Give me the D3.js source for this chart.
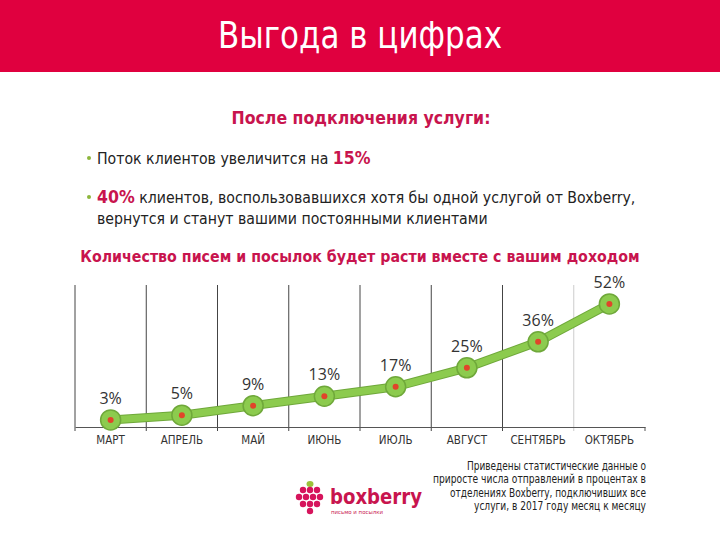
<!DOCTYPE html>
<html><head><meta charset="utf-8">
<script src="https://cdn.jsdelivr.net/npm/d3@7"></script>
<style>html,body{margin:0;padding:0;background:#fff;}svg{display:block;}</style>
</head><body>
<svg id="c" width="720" height="540"></svg>
<script>
const months = ["МАРТ","АПРЕЛЬ","МАЙ","ИЮНЬ","ИЮЛЬ","АВГУСТ","СЕНТЯБРЬ","ОКТЯБРЬ"];
const values = [3,5,9,13,17,25,36,52];
const valueLabels = ["3%","5%","9%","13%","17%","25%","36%","52%"];
const footnote = ["Приведены статистические данные о","приросте числа отправлений в процентах в","отделениях Boxberry, подключивших все","услуги, в 2017 году месяц к месяцу"];
const footWidths = [179,213,196,172];

const svg = d3.select("#c");
const crimson = "#C8144E";
const sans = "'DejaVu Sans Condensed','DejaVu Sans',sans-serif";
const body = "'Liberation Sans Narrow','DejaVu Sans Condensed',sans-serif";

// header
svg.append("rect").attr("x",0).attr("y",0).attr("width",720).attr("height",72).attr("fill","#E0003F");
svg.append("text").attr("x",218).attr("y",48)
  .attr("fill","#fff").attr("font-family",body).attr("font-size",37)
  .attr("textLength",284).attr("lengthAdjust","spacingAndGlyphs").text("Выгода в цифрах");

svg.append("text").attr("x",361).attr("y",124).attr("text-anchor","middle")
  .attr("fill",crimson).attr("font-family",sans).attr("font-weight","bold").attr("font-size",17.5)
  .text("После подключения услуги:");

// bullets
svg.append("circle").attr("cx",89).attr("cy",158).attr("r",2).attr("fill","#8DB63C");
const t1 = svg.append("text").attr("x",97).attr("y",164).attr("font-family",sans).attr("font-size",15.7).attr("fill","#222");
t1.append("tspan").text("Поток клиентов увеличится на ");
t1.append("tspan").attr("fill",crimson).attr("font-weight","bold").attr("font-size",17.5).text("15%");

svg.append("circle").attr("cx",89).attr("cy",197).attr("r",2).attr("fill","#8DB63C");
const t2 = svg.append("text").attr("x",97).attr("y",203).attr("font-family",sans).attr("font-size",15.7).attr("fill","#222");
t2.append("tspan").attr("fill",crimson).attr("font-weight","bold").attr("font-size",17.5).text("40%");
t2.append("tspan").text(" клиентов, воспользовавшихся хотя бы одной услугой от Boxberry,");
svg.append("text").attr("x",97).attr("y",224).attr("font-family",sans).attr("font-size",15.7).attr("fill","#222")
  .text("вернутся и станут вашими постоянными клиентами");

svg.append("text").attr("x",360).attr("y",262).attr("text-anchor","middle")
  .attr("fill",crimson).attr("font-family",sans).attr("font-weight","bold").attr("font-size",15.8)
  .text("Количество писем и посылок будет расти вместе с вашим доходом");

// chart
const x = d3.scaleBand().domain(months).range([75,645]);
const y = d3.scaleLinear().domain([0,60]).range([427,285]);
const g = svg.append("g");

const bounds = months.map(m=>x(m));
g.selectAll("line.v").data(bounds).join("line")
  .attr("x1",d=>d).attr("x2",d=>d).attr("y1",285).attr("y2",431)
  .attr("stroke",(d,i)=> i===7 ? "#ccc" : "#444").attr("stroke-width",1);
const ax = g.append("g").attr("transform","translate(0,427)")
  .call(d3.axisBottom(x).tickSize(0).tickPadding(9));
ax.select(".domain").attr("stroke","#555");
ax.selectAll("text").attr("font-family",body).attr("font-size",11.5).attr("fill","#333");
g.append("line").attr("x1",645).attr("x2",645).attr("y1",427).attr("y2",431).attr("stroke","#555");

const cx = d=>x(d)+x.bandwidth()/2;
const line = d3.line().x((d,i)=>cx(months[i])).y(d=>y(d));
g.append("path").datum(values).attr("d",line).attr("fill","none")
  .attr("stroke","#6FA83A").attr("stroke-width",9).attr("stroke-linejoin","round");
g.append("path").datum(values).attr("d",line).attr("fill","none")
  .attr("stroke","#8CCB4E").attr("stroke-width",7).attr("stroke-linejoin","round");

g.selectAll("circle.o").data(values).join("circle")
  .attr("cx",(d,i)=>cx(months[i])).attr("cy",d=>y(d)).attr("r",10)
  .attr("fill","#8CCB4E").attr("stroke","#6FA83A").attr("stroke-width",1.5);
g.selectAll("circle.i").data(values).join("circle")
  .attr("cx",(d,i)=>cx(months[i])).attr("cy",d=>y(d)).attr("r",3)
  .attr("fill","#E0452A");
g.selectAll("text.l").data(values).join("text")
  .attr("x",(d,i)=>cx(months[i])).attr("y",d=>y(d)-16).attr("text-anchor","middle")
  .attr("font-family","'Open Sans','DejaVu Sans',sans-serif").attr("font-size",16).attr("fill","#333")
  .text((d,i)=>valueLabels[i]);

// footnote
svg.selectAll("text.f").data(footnote).join("text")
  .attr("x",(d,i)=>646-footWidths[i]).attr("y",(d,i)=>470+i*13.3)
  .attr("font-family",body).attr("font-size",11.5).attr("fill","#222")
  .attr("textLength",(d,i)=>footWidths[i]).attr("lengthAdjust","spacingAndGlyphs").text(d=>d);

// logo
const lg = svg.append("g").attr("transform","translate(297,485)");
lg.append("ellipse").attr("cx",13).attr("cy",-1).attr("rx",3.5).attr("ry",3).attr("fill","#9CC23A");
const berries = [[6,5],[13,5],[20,5],[2,12],[9,12],[16,12],[23,12],[6,19],[13,19],[20,19],[13,26]];
lg.selectAll("circle").data(berries).join("circle").attr("cx",d=>d[0]).attr("cy",d=>d[1]).attr("r",3.2).attr("fill","#D6145C");
svg.append("text").attr("x",330).attr("y",504).attr("font-family","'DejaVu Sans',sans-serif").attr("font-weight","bold")
  .attr("font-size",22).attr("fill","#C8144E").attr("textLength",92).attr("lengthAdjust","spacingAndGlyphs").text("boxberry");
svg.append("text").attr("x",331).attr("y",514).attr("font-family",sans).attr("font-size",5.5).attr("fill","#C8144E")
  .attr("textLength",52).attr("lengthAdjust","spacingAndGlyphs").text("письмо и посылки");
</script>
</body></html>
